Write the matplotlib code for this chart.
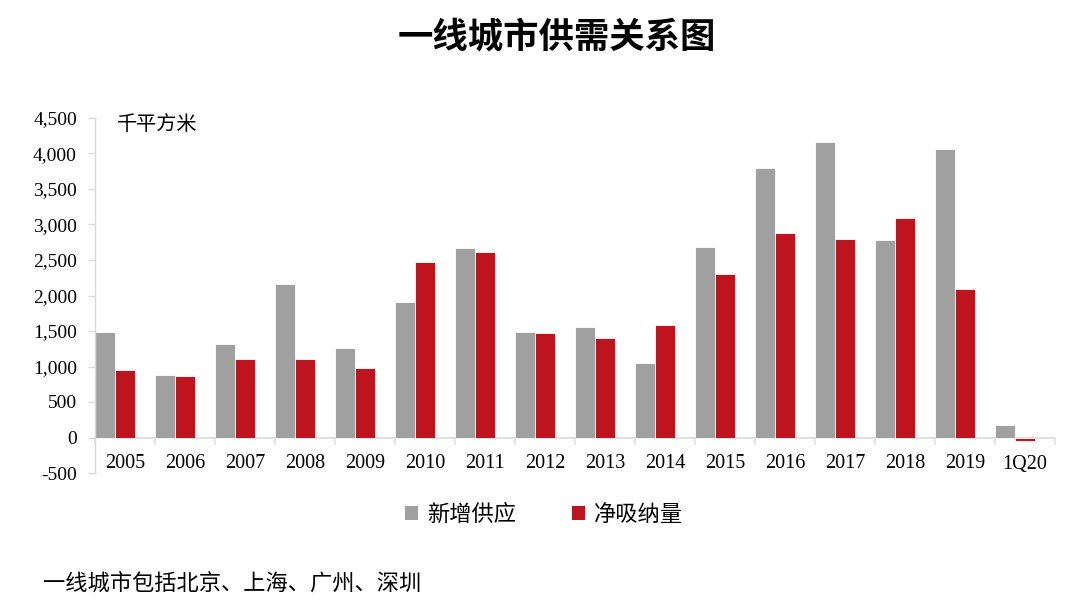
import matplotlib
matplotlib.use("Agg")
import matplotlib.pyplot as plt
import matplotlib.transforms as mtrans
from matplotlib.patches import Patch
import numpy as np

categories = ["2005", "2006", "2007", "2008", "2009", "2010", "2011", "2012",
              "2013", "2014", "2015", "2016", "2017", "2018", "2019", "1Q20"]
new_supply = [1490, 880, 1315, 2165, 1260, 1910, 2670, 1485,
              1550, 1045, 2680, 3800, 4165, 2775, 4070, 175]
net_absorption = [950, 865, 1110, 1100, 980, 2470, 2610, 1470,
                  1405, 1585, 2300, 2875, 2800, 3095, 2085, -55]
yticks = [-500, 0, 500, 1000, 1500, 2000, 2500, 3000, 3500, 4000, 4500]

title = "一线城市供需关系图"
unit = "千平方米"
series_names = ["新增供应", "净吸纳量"]
note = "一线城市包括北京、上海、广州、深圳"

GRAY = "#A0A0A0"
RED = "#BE141E"
AXC = "#D9D9D9"
CJK = ["Noto Sans CJK SC", "DejaVu Sans"]
SERIF = ["Liberation Serif", "DejaVu Serif"]

fig = plt.figure(figsize=(10.8, 6.08), dpi=100)
ax = fig.add_axes([95/1080, 1-473/608, (1055-95)/1080, (473-118)/608])

x = np.arange(len(categories))
w = 1/3
ax.bar(x - w, new_supply, width=w, color=GRAY, edgecolor="white", linewidth=0.6)
ax.bar(x, net_absorption, width=w, color=RED, edgecolor="white", linewidth=0.6)

ax.set_xlim(-0.5, len(categories) - 0.5)
ax.set_ylim(-500, 4500)
ax.set_yticks(yticks)
ax.set_yticklabels([f"{v:,}" for v in yticks], family=SERIF, fontsize=14)
ax.tick_params(axis="y", length=5, color=AXC, pad=8, width=1)

ax.set_xticks([])
trans = mtrans.blended_transform_factory(ax.transData, ax.transData) + \
    mtrans.ScaledTranslation(0, -17/100, fig.dpi_scale_trans)
for i, c in enumerate(categories):
    ax.text(i, 0, c, transform=trans, ha="center", va="top",
            family=SERIF, fontsize=14.5)
# boundary ticks below the zero line
for b in np.arange(len(categories) + 1) - 0.5:
    ax.annotate("", xy=(b, 0), xycoords="data", xytext=(0, -5),
                textcoords="offset points",
                arrowprops=dict(arrowstyle="-", color=AXC, lw=1, shrinkA=0, shrinkB=0))

ax.axhline(0, color=AXC, lw=1.2, zorder=0)
for s in ["top", "right", "bottom"]:
    ax.spines[s].set_visible(False)
ax.spines["left"].set_color(AXC)
ax.spines["left"].set_linewidth(1)

fig.text(117/1080, 1-124/608, unit, family=CJK, fontsize=14.5, ha="left", va="center")
fig.text(557/1080, 1-37/608, title, family=CJK, fontsize=25.5, fontweight="bold",
         ha="center", va="center")
fig.text(43/1080, 1-583/608, note, family=CJK, fontsize=16, ha="left", va="center")

handles = [Patch(facecolor=GRAY, edgecolor="none"), Patch(facecolor=RED, edgecolor="none")]
fig.legend(handles, series_names, loc="center", bbox_to_anchor=(544/1080, 1-514/608),
           ncol=2, frameon=False, prop={"family": CJK, "size": 16},
           handlelength=0.6, handleheight=0.6, handletextpad=0.4, columnspacing=2.5)

fig.savefig("out.png", dpi=100)
